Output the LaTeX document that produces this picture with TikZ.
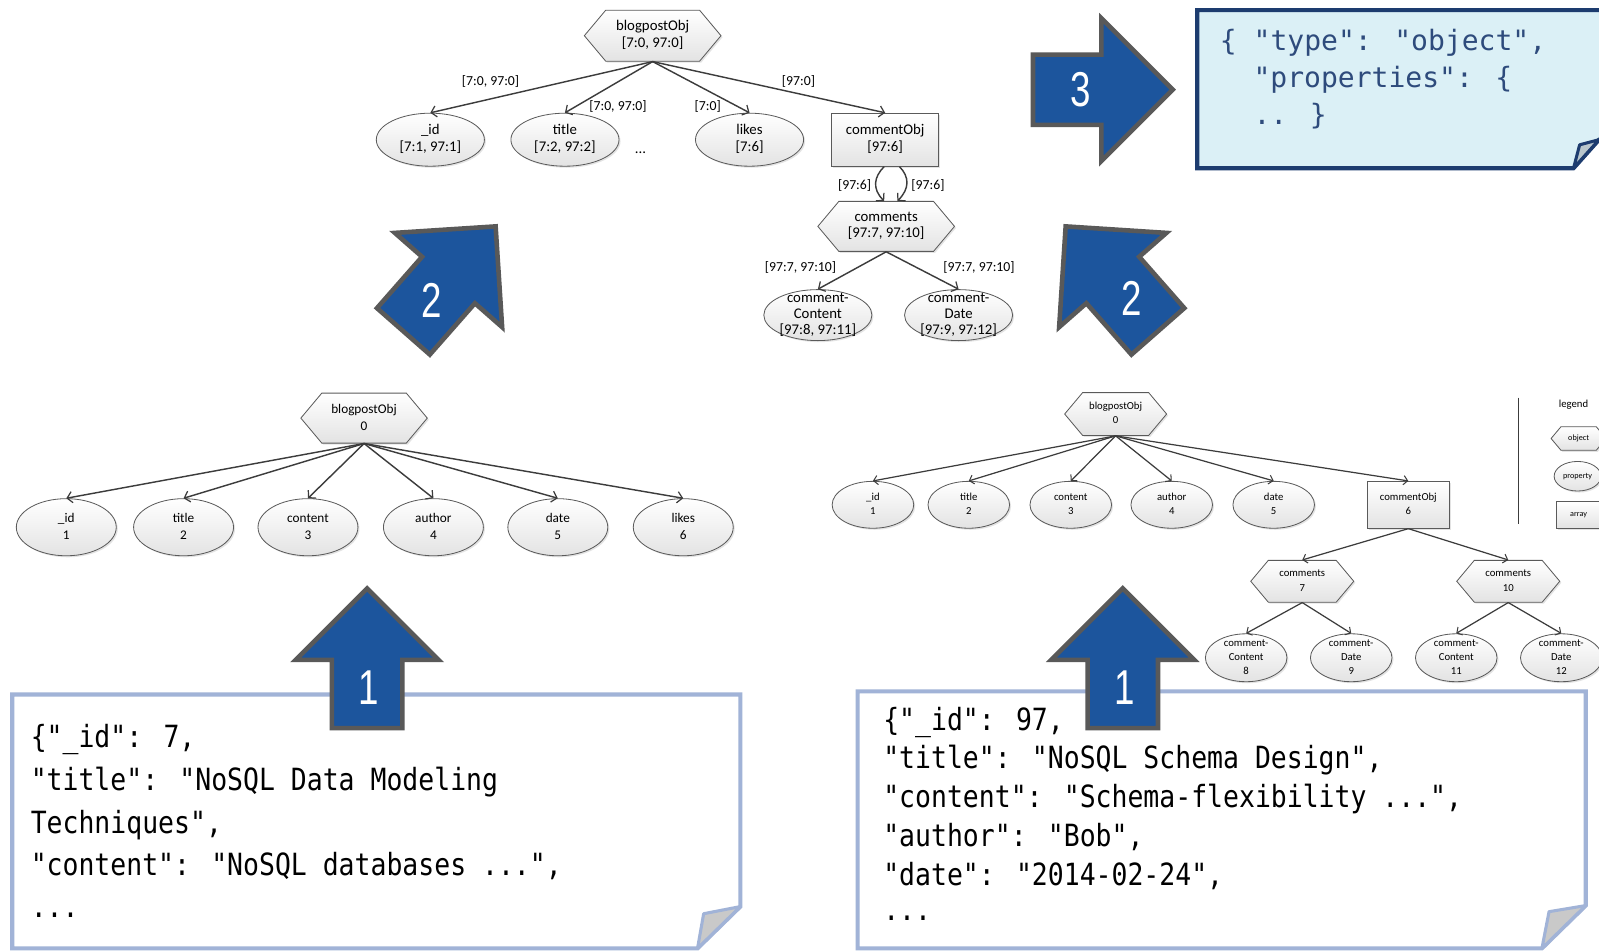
\documentclass[tikz,border=0pt]{standalone}
\usepackage{fontspec}
\setmainfont{Carlito}
\newfontfamily\jsonfont{DejaVu Sans Mono}
\newfontfamily\schemafont{DejaVu Sans Mono}
\newfontfamily\digitfont{Liberation Sans}
\usetikzlibrary{arrows.meta,shapes.geometric,shapes.symbols,shadows}

\definecolor{edgegray}{HTML}{3C3C3C}
\definecolor{nodeline}{HTML}{5A5A5A}
\definecolor{arrowblue}{HTML}{1C559D}
\definecolor{arrowrim}{HTML}{595959}
\definecolor{docline}{HTML}{A1B3D7}
\definecolor{foldgray}{HTML}{C9C9C9}
\definecolor{schemafill}{HTML}{DBF0F6}
\definecolor{schemaline}{HTML}{1D3C6F}
\definecolor{schematext}{HTML}{2E4B7C}
\definecolor{foldblue}{HTML}{B9C6CC}

% centred multi-line text that does not change the size of its shape
\newcommand\ztext[1]{\makebox[0pt]{\smash{\raisebox{-.25em}{\begin{tabular}{@{}c@{}}#1\end{tabular}}}}}

\tikzset{
  shapebase/.style={draw=nodeline, line width=0.8pt, inner sep=0pt,
    top color=white, bottom color=black!11,
    drop shadow={opacity=.22, shadow xshift=1.5pt, shadow yshift=-1.5pt}},
  objshape/.style={shapebase, signal, signal to=east and west, signal pointer angle=100},
  propshape/.style={shapebase, ellipse},
  arrshape/.style={shapebase, rectangle},
  edge/.style={draw=edgegray, line width=1.4pt,
    -{Straight Barb[length=5pt,width=11pt,line width=1.2pt]}},
  smalledge/.style={draw=edgegray, line width=1.2pt,
    -{Straight Barb[length=4pt,width=9pt,line width=1pt]}},
  toptext/.style={font=\fontsize{14.5}{16}\selectfont},
  lefttext/.style={font=\fontsize{13}{17}\selectfont},
  righttext/.style={font=\fontsize{10.5}{14}\selectfont},
  elab/.style={font=\fontsize{13.5}{16}\selectfont, inner sep=0pt},
  docbox/.style={draw=docline, line width=4pt, fill=white, line join=miter},
  docfold/.style={draw=docline, line width=3pt, fill=foldgray, line join=round},
  schemabox/.style={draw=schemaline, line width=4pt, fill=schemafill, line join=miter},
  schemafold/.style={draw=schemaline, line width=3pt, fill=foldblue, line join=round},
  jtext/.style={font=\jsonfont\fontsize{30}{36}\selectfont, anchor=base west, inner sep=0pt,
    xscale=0.865, transform shape},
  stext/.style={font=\schemafont\fontsize{27.5}{33}\selectfont, text=schematext, anchor=base west, inner sep=0pt},
  arrowbody/.style={fill=arrowblue, draw=arrowrim, line width=4.5pt, line join=miter},
  digit/.style={font=\digitfont\fontsize{48}{52}\selectfont, text=white, inner sep=0pt,
    xscale=0.75, transform shape},
  pics/blockarrow/.style={code={
    \draw[arrowbody] (0,0) -- (-70,70) -- (-70,34.5) -- (-137,34.5)
      -- (-137,-34.5) -- (-70,-34.5) -- (-70,-70) -- cycle;
  }}
}

\begin{document}
\begin{tikzpicture}[x=1pt,y=-1pt]
\useasboundingbox (0,0) rectangle (1568,933);
\fill[white] (0,0) rectangle (1568,933);

% ---------- source documents ----------
\draw[docbox] (12,681) -- (726,681) -- (726,889) -- (684,930) -- (12,930) -- cycle;
\draw[docfold] (726,889) -- (690,896) -- (684,930) -- cycle;
\node[jtext] (l1) at (30,733) {\{"\_id": 7,};
\node[jtext] (l2) at (30,775) {"title": "NoSQL Data Modeling};
\node[jtext] (l3) at (30,817) {Techniques",};
\node[jtext] (l4) at (30,859) {"content": "NoSQL databases ...",};
\node[jtext] (l5) at (30,900) {...};

\draw[docbox] (841,678) -- (1555,678) -- (1555,888) -- (1512,930) -- (841,930) -- cycle;
\draw[docfold] (1555,888) -- (1519,894) -- (1512,930) -- cycle;
\node[jtext] (r1) at (866,716) {\{"\_id": 97,};
\node[jtext] (r2) at (866,754) {"title": "NoSQL Schema Design",};
\node[jtext] (r3) at (866,792) {"content": "Schema-flexibility ...",};
\node[jtext] (r4) at (866,830) {"author": "Bob",};
\node[jtext] (r5) at (866,868) {"date": "2014-02-24",};
\node[jtext] (r6) at (866,903) {...};

% ---------- derived schema ----------
\draw[schemabox] (1174,10) -- (1575,10) -- (1575,137) -- (1568,137) -- (1543,165) -- (1174,165) -- cycle;
\draw[schemafold] (1568,137) -- (1549,142) -- (1543,165) -- cycle;
\node[stext] (s1) at (1196,50) {\{ "type": "object",};
\node[stext] (s2) at (1229,86) {"properties": \{};
\node[stext] (s3) at (1229,122) {.. \}};

% ---------- merged schema graph ----------
\node[objshape, minimum width=134, minimum height=50, toptext] (tObj) at (640,35) {\ztext{blogpostObj\\{[7:0, 97:0]}}};
\node[propshape, minimum width=106, minimum height=52, toptext] (tId) at (422,137) {\ztext{\_id\\{[7:1, 97:1]}}};
\node[propshape, minimum width=106, minimum height=52, toptext] (tTitle) at (554,137) {\ztext{title\\{[7:2, 97:2]}}};
\node[propshape, minimum width=106, minimum height=52, toptext] (tLikes) at (735,137) {\ztext{likes\\{[7:6]}}};
\node[arrshape, minimum width=105, minimum height=52, toptext] (tCobj) at (868,137) {\ztext{commentObj\\{[97:6]}}};
\node[toptext] (tDots) at (628,150) {...};
\node[objshape, minimum width=134, minimum height=49, toptext] (tComm) at (869,222) {\ztext{comments\\{[97:7, 97:10]}}};
\node[propshape, minimum width=106, minimum height=50, toptext] (tCC) at (802,309) {\ztext{comment-\\Content\\{[97:8, 97:11]}}};
\node[propshape, minimum width=106, minimum height=50, toptext] (tCD) at (940,309) {\ztext{comment-\\Date\\{[97:9, 97:12]}}};

\draw[edge] (tObj.south) -- (tId.north);
\draw[edge] (tObj.south) -- (tTitle.north);
\draw[edge] (tObj.south) -- (tLikes.north);
\draw[edge] (tObj.south) -- (tCobj.north);
\draw[edge] ([xshift=-1pt]tCobj.south) .. controls +(-10,10) and +(-12,-12) .. ([xshift=-2pt]tComm.north);
\draw[edge] ([xshift=14pt]tCobj.south) .. controls +(10,10) and +(12,-12) .. ([xshift=11pt]tComm.north);
\draw[edge] (tComm.south) -- (tCC.north);
\draw[edge] (tComm.south) -- (tCD.north);

\node[elab] (eId) at (481,80) {[7:0, 97:0]};
\node[elab] (eTitle) at (606,104) {[7:0, 97:0]};
\node[elab] (eLikes) at (694,104) {[7:0]};
\node[elab] (eCobj) at (783,80) {[97:0]};
\node[elab] (eArrL) at (838,182) {[97:6]};
\node[elab] (eArrR) at (910,182) {[97:6]};
\node[elab] (eCC) at (785,262) {[97:7, 97:10]};
\node[elab] (eCD) at (960,262) {[97:7, 97:10]};

% ---------- graph of document 7 ----------
\node[objshape, minimum width=124, minimum height=49, lefttext] (aObj) at (357,410) {\ztext{blogpostObj\\0}};
\foreach \nm/\lbl/\num/\xx in {aId/\_id/1/65, aTitle/title/2/180, aContent/content/3/302,
                               aAuthor/author/4/425, aDate/date/5/547, aLikes/likes/6/670}{
  \node[propshape, minimum width=98, minimum height=56, lefttext] (\nm) at (\xx,517) {\ztext{\lbl\\\num}};
  \draw[edge] (aObj.south) -- (\nm.north);
}

% ---------- graph of document 97 ----------
\node[objshape, minimum width=100, minimum height=42, righttext] (bObj) at (1094,406) {\ztext{blogpostObj\\0}};
\foreach \nm/\lbl/\num/\xx in {bId/\_id/1/856, bTitle/title/2/950, bContent/content/3/1050,
                               bAuthor/author/4/1149, bDate/date/5/1249}{
  \node[propshape, minimum width=80, minimum height=46, righttext] (\nm) at (\xx,495) {\ztext{\lbl\\\num}};
  \draw[smalledge] (bObj.south) -- (\nm.north);
}
\node[arrshape, minimum width=80, minimum height=46, righttext] (bCobj) at (1381,495) {\ztext{commentObj\\6}};
\draw[smalledge] (bObj.south) -- (bCobj.north);
\node[objshape, minimum width=101, minimum height=41, righttext] (bC7) at (1277,570) {\ztext{comments\\7}};
\node[objshape, minimum width=101, minimum height=41, righttext] (bC10) at (1479,570) {\ztext{comments\\10}};
\draw[smalledge] (bCobj.south) -- (bC7.north);
\draw[smalledge] (bCobj.south) -- (bC10.north);
\node[propshape, minimum width=80, minimum height=47, righttext] (bCC8) at (1222,645) {\ztext{comment-\\Content\\8}};
\node[propshape, minimum width=80, minimum height=47, righttext] (bCD9) at (1325,645) {\ztext{comment-\\Date\\9}};
\node[propshape, minimum width=80, minimum height=47, righttext] (bCC11) at (1428,645) {\ztext{comment-\\Content\\11}};
\node[propshape, minimum width=80, minimum height=47, righttext] (bCD12) at (1531,645) {\ztext{comment-\\Date\\12}};
\draw[smalledge] (bC7.south) -- (bCC8.north);
\draw[smalledge] (bC7.south) -- (bCD9.north);
\draw[smalledge] (bC10.south) -- (bCC11.north);
\draw[smalledge] (bC10.south) -- (bCD12.north);

% ---------- legend ----------
\draw[edgegray, line width=1.2pt] (1489,390) -- (1489,514);
\node[font=\fontsize{10.5}{12}\selectfont] (legTitle) at (1543,397) {legend};
\node[objshape, minimum width=54, minimum height=23, font=\fontsize{8}{9}\selectfont] (legObj) at (1548,430) {\ztext{object}};
\node[propshape, minimum width=46, minimum height=29, font=\fontsize{8}{9}\selectfont] (legProp) at (1547,467) {\ztext{property}};
\node[arrshape, minimum width=44, minimum height=26, font=\fontsize{8}{9}\selectfont] (legArr) at (1548,505) {\ztext{array}};

% ---------- process steps ----------
\pic (stepA) [rotate=90] at (360,577) {blockarrow};
\pic (stepB) [rotate=90] at (1101,577) {blockarrow};
\pic (stepC) [rotate=48.7] at (486,222) {blockarrow};
\pic (stepD) [rotate=131.3] at (1045,222) {blockarrow};
\pic (stepE) at (1150,88) {blockarrow};
\node[digit] (numA) at (362,674) {1};
\node[digit] (numB) at (1103,674) {1};
\node[digit] (numC) at (423,295) {2};
\node[digit] (numD) at (1110,293) {2};
\node[digit] (numE) at (1060,88) {3};
\end{tikzpicture}
\end{document}
